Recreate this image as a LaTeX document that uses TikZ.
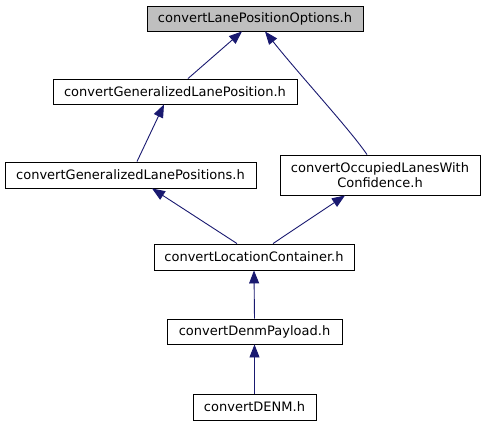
\documentclass[tikz,border=0pt]{standalone}
\usepackage{fontspec}
\setmainfont{DejaVu Sans}
\usetikzlibrary{arrows.meta}
\definecolor{edgeblue}{RGB}{25,25,112}
\definecolor{rootgray}{RGB}{191,191,191}
\begin{document}
\begin{tikzpicture}[x=1pt,y=-1pt,
  box/.style={draw=black, line width=0.9pt, fill=white, inner sep=0pt,
    font=\fontsize{13}{15}\selectfont, align=center},
  edge/.style={draw=edgeblue, line width=0.9pt,
    -{Triangle[length=13pt,width=10pt,fill=edgeblue]}}]
\useasboundingbox (0,0) rectangle (485,425);
\node[box, fill=rootgray, minimum width=216pt, minimum height=25pt] (n1) at (255,18.5) {convertLanePositionOptions.h};
\node[box, minimum width=244pt, minimum height=25pt] (n2) at (175,91.5) {convertGeneralizedLanePosition.h};
\node[box, minimum width=251pt, minimum height=26pt] (n3) at (130.5,175) {convertGeneralizedLanePositions.h};
\node[box, minimum width=200pt, minimum height=40pt] (n4) at (380,175) {convertOccupiedLanesWith\\Confidence.h};
\node[box, minimum width=200pt, minimum height=26pt] (n5) at (254,257) {convertLocationContainer.h};
\node[box, minimum width=175pt, minimum height=25pt] (n6) at (254.5,331.5) {convertDenmPayload.h};
\node[box, minimum width=123pt, minimum height=26pt] (n7) at (254.5,407) {convertDENM.h};
\draw[edge] ([xshift=13pt]n2.north) -- ([xshift=-13pt]n1.south);
\draw[edge] ([xshift=-13pt]n4.north) .. controls +(-17,-25) and +(35,44) .. ([xshift=10pt]n1.south);
\draw[edge] ([xshift=6.5pt]n3.north) -- ([xshift=-11pt]n2.south);
\draw[edge] ([xshift=-17pt]n5.north) -- ([xshift=21.5pt]n3.south);
\draw[edge] ([xshift=19pt]n5.north) -- ([xshift=-35pt]n4.south);
\draw[edge] (n6.north) -- (n5.south);
\draw[edge] (n7.north) -- (n6.south);
\end{tikzpicture}
\end{document}
